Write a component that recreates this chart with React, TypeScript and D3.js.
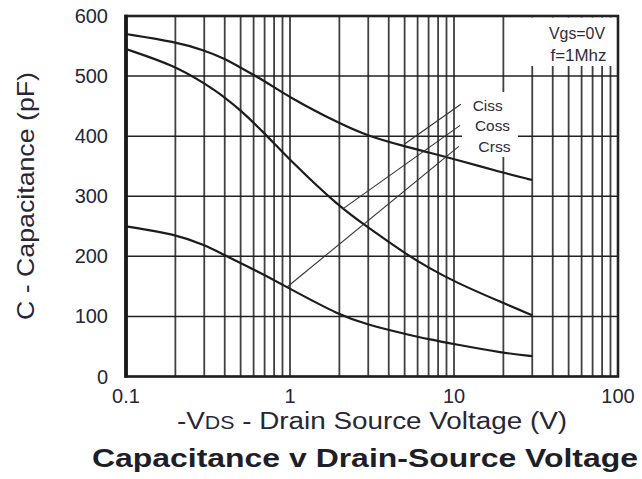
// CapacitanceChart.tsx
import React, { useRef, useEffect } from 'react';
import * as d3 from 'd3';

// ---- data ----
const voltages = [0.1, 0.2, 0.3, 0.4, 0.5, 0.7, 1, 2, 3, 5, 7, 10, 20, 30];
const ciss = [570, 557, 543, 529, 514, 492, 464, 421, 400, 383, 373, 362, 339, 327];
const coss = [545, 517, 488, 465, 443, 405, 360, 282, 248, 205, 181, 158, 122, 102];
const crss = [250, 237, 219, 202, 189, 169, 146, 102, 86, 71, 62, 54, 39, 34];

const seriesNames = ['Ciss', 'Coss', 'Crss'];
// leader lines: [V, pF] on the curve -> [V, pF] near the label
const leaderFrom = [[5.0, 387], [2.1, 279], [0.96, 149]];
const leaderTo = [[11.0, 453], [10.9, 418], [10.7, 383]];

const xTicks = [0.1, 1, 10, 100];
const xTickLabels = ['0.1', '1', '10', '100'];
const yTicks = [0, 100, 200, 300, 400, 500, 600];

const FONT = '"Liberation Sans", Arial, Helvetica, sans-serif';

const App = () => {
  const ref = useRef<SVGSVGElement | null>(null);

  useEffect(() => {
    // 1) DIMENSIONS
    const width = 642;
    const height = 479;
    const left = 126;
    const right = 618;
    const top = 16;
    const bottom = 376.5;

    // 2) SCALES
    const x = d3.scaleLog().domain([0.1, 100]).range([left, right]);
    const y = d3.scaleLinear().domain([0, 600]).range([bottom, top]);

    const svg = d3.select(ref.current);
    svg.selectAll('*').remove();
    svg.attr('width', width).attr('height', height).attr('viewBox', `0 0 ${width} ${height}`);

    svg.append('rect').attr('width', width).attr('height', height).attr('fill', '#fff');

    // 3) GRID
    const minor: number[] = [];
    [0.1, 1, 10].forEach(d => {
      for (let k = 1; k < 10; k++) minor.push(d * k);
    });
    minor.push(100);

    const grid = svg.append('g');
    grid.selectAll('line.v')
      .data(minor)
      .join('line')
        .attr('class', 'v')
        .attr('x1', d => x(d))
        .attr('x2', d => x(d))
        .attr('y1', top)
        .attr('y2', bottom)
        .attr('stroke', '#404040')
        .attr('stroke-width', 1.8);

    grid.selectAll('line.h')
      .data(yTicks)
      .join('line')
        .attr('class', 'h')
        .attr('x1', left)
        .attr('x2', right)
        .attr('y1', d => y(d))
        .attr('y2', d => y(d))
        .attr('stroke', '#222')
        .attr('stroke-width', 1.5);

    // 4) WHITE BOXES behind the annotations
    svg.append('rect')
      .attr('x', 520).attr('y', top + 1.5)
      .attr('width', right - 520 - 1.5).attr('height', 66 - top - 1.5)
      .attr('fill', '#fff');
    svg.append('rect')
      .attr('x', 462).attr('y', 92)
      .attr('width', 56).attr('height', 65)
      .attr('fill', '#fff');

    // 5) FRAME
    svg.append('rect')
      .attr('x', left).attr('y', top)
      .attr('width', right - left).attr('height', bottom - top)
      .attr('fill', 'none')
      .attr('stroke', '#222')
      .attr('stroke-width', 2.6);
    svg.append('line')
      .attr('x1', left).attr('x2', left)
      .attr('y1', top - 1.3).attr('y2', bottom + 1.3)
      .attr('stroke', '#1a1a1a')
      .attr('stroke-width', 3.8);

    // 6) CURVES
    const lineGen = d3.line<number>()
      .x((_, i) => x(voltages[i]))
      .y(d => y(d))
      .curve(d3.curveBasis);

    svg.append('g')
      .selectAll('path')
      .data([ciss, coss, crss])
      .join('path')
        .attr('d', d => lineGen(d))
        .attr('fill', 'none')
        .attr('stroke', '#1c1c1c')
        .attr('stroke-width', 2.2);

    // 7) LEADERS + SERIES LABELS
    svg.append('g')
      .selectAll('line')
      .data(leaderFrom)
      .join('line')
        .attr('x1', d => x(d[0]))
        .attr('y1', d => y(d[1]))
        .attr('x2', (_, i) => x(leaderTo[i][0]))
        .attr('y2', (_, i) => y(leaderTo[i][1]))
        .attr('stroke', '#333')
        .attr('stroke-width', 1.1);

    const labelX = [472.7, 475, 478.3];
    const labelY = [110.7, 130.7, 151.7];
    const labelW = [30, 35, 32.4];
    svg.append('g')
      .selectAll('text')
      .data(seriesNames)
      .join('text')
        .attr('x', (_, i) => labelX[i])
        .attr('y', (_, i) => labelY[i])
        .attr('textLength', (_, i) => labelW[i])
        .attr('lengthAdjust', 'spacingAndGlyphs')
        .attr('font-family', FONT)
        .attr('font-size', 15.5)
        .attr('fill', '#2c2c3a')
        .text(d => d);

    // 8) CONDITIONS NOTE
    const note = svg.append('g')
      .attr('font-family', FONT)
      .attr('font-size', 16)
      .attr('fill', '#2c2c3a')
      .attr('text-anchor', 'end');
    note.append('text')
      .attr('x', 605).attr('y', 39)
      .attr('textLength', 56).attr('lengthAdjust', 'spacingAndGlyphs')
      .text('Vgs=0V');
    note.append('text')
      .attr('x', 606.5).attr('y', 61)
      .attr('textLength', 56).attr('lengthAdjust', 'spacingAndGlyphs')
      .text('f=1Mhz');

    // 9) TICK LABELS
    svg.append('g')
      .attr('font-family', FONT)
      .attr('font-size', 20)
      .attr('fill', '#262636')
      .attr('text-anchor', 'end')
      .selectAll('text')
      .data(yTicks)
      .join('text')
        .attr('x', 108)
        .attr('y', d => y(d) + 7)
        .text(d => d);

    svg.append('g')
      .attr('font-family', FONT)
      .attr('font-size', 20)
      .attr('fill', '#262636')
      .attr('text-anchor', 'middle')
      .selectAll('text')
      .data(xTicks)
      .join('text')
        .attr('x', d => x(d))
        .attr('y', 403)
        .text((_, i) => xTickLabels[i]);

    // 10) AXIS TITLES
    const xt = svg.append('text')
      .attr('x', 177)
      .attr('y', 428.5)
      .attr('font-family', FONT)
      .attr('font-size', 23.5)
      .attr('fill', '#262636')
      .attr('textLength', 390)
      .attr('lengthAdjust', 'spacingAndGlyphs');
    xt.append('tspan').text('-V');
    xt.append('tspan').attr('font-size', 18).text('DS');
    xt.append('tspan').text(' - Drain Source Voltage (V)');

    svg.append('text')
      .attr('transform', 'translate(33.5,320) rotate(-90)')
      .attr('font-family', FONT)
      .attr('font-size', 24)
      .attr('fill', '#262636')
      .attr('textLength', 248)
      .attr('lengthAdjust', 'spacingAndGlyphs')
      .text('C - Capacitance (pF)');

    svg.append('text')
      .attr('x', 92)
      .attr('y', 467)
      .attr('font-family', FONT)
      .attr('font-size', 26)
      .attr('font-weight', 'bold')
      .attr('fill', '#1e1e28')
      .attr('textLength', 546)
      .attr('lengthAdjust', 'spacingAndGlyphs')
      .text('Capacitance v Drain-Source Voltage');
  }, []);

  return (
    <svg ref={ref} style={{ position: 'absolute', left: 0, top: 0, display: 'block' }} />
  );
};

export default App;
